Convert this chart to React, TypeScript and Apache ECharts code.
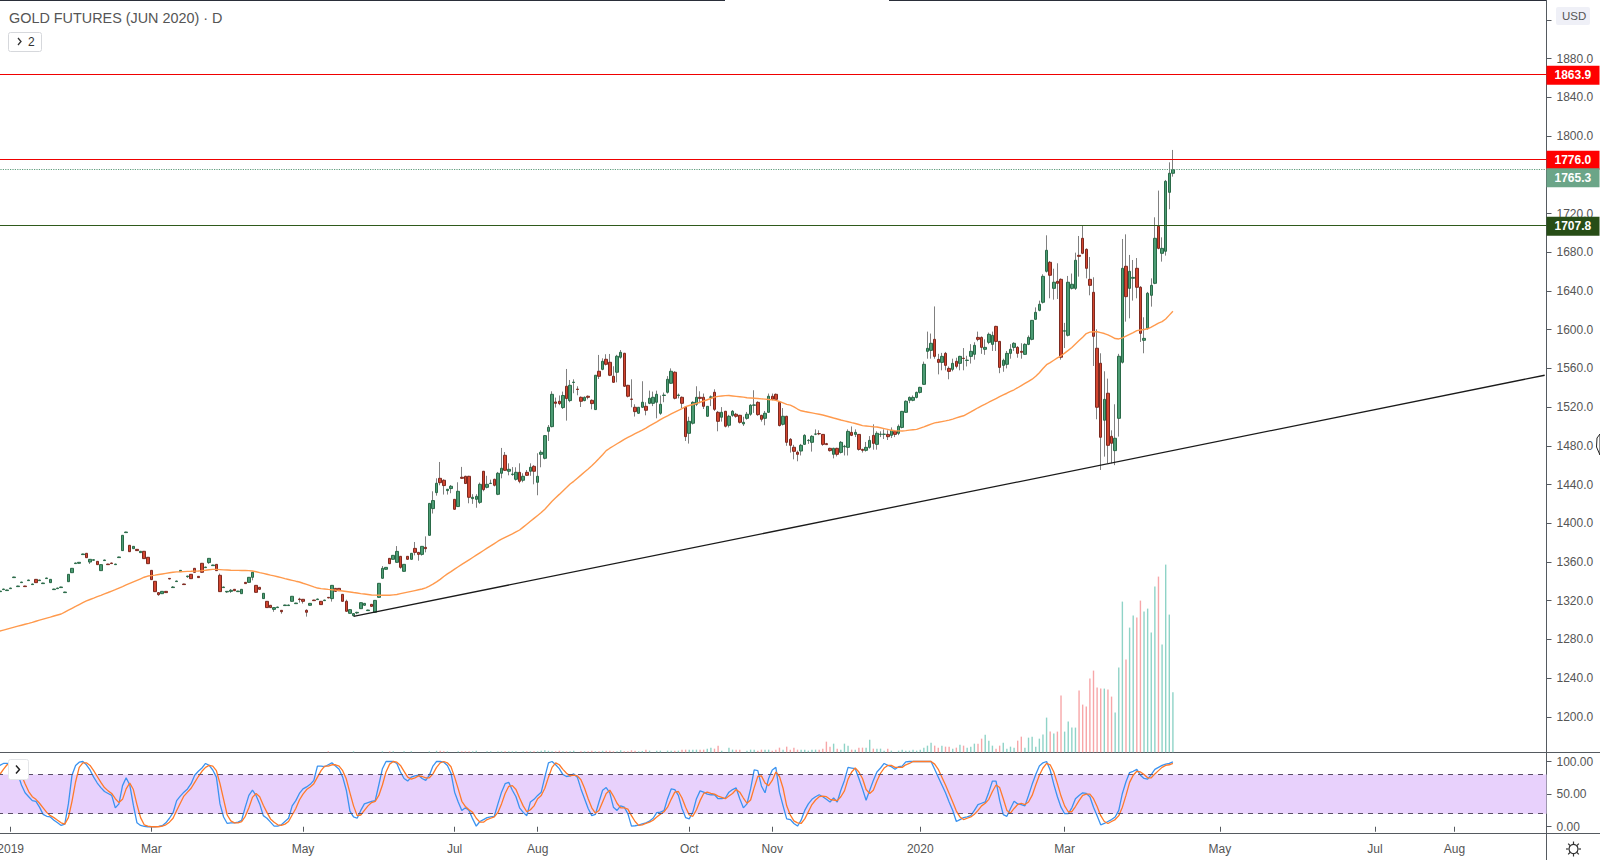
import React, { useEffect, useRef } from "react";
import * as echarts from "echarts";

const FONT = "'Liberation Sans', Arial, sans-serif";

// daily gold futures
const opens = [
  1329.3,1331.4,1330.4,1332.4,1343.8,1334.5,1338.6,1335.1,1340.7,1336.6,
  1342,1340.7,1337.6,1342.8,1338.6,1331.4,1332.4,1333.5,1328.3,1339.6,
  1348.9,1358.3,1358.6,1367.6,1368.9,1359.9,1361.7,1360.6,1351,1361.4,
  1357.8,1358.9,1357.2,1364.5,1371.7,1390.3,1377.2,1373.7,1373,1369.6,
  1371,1364.8,1351.3,1340,1328.3,1327.2,1329.6,1343,1333.5,1339.7,
  1350,1337.2,1344.8,1347.2,1353.4,1345.1,1358.6,1354.1,1359.3,1356.2,
  1357.5,1346.2,1333.5,1329,1329.6,1331.7,1329.3,1327.2,1338.9,1338.9,
  1344.1,1335.8,1333.8,1322.1,1319.3,1315.2,1311,1312.8,1310,1314.9,
  1314.9,1319.3,1316.9,1321.7,1321.4,1310,1315.2,1320.6,1321.1,1319.3,
  1320,1323.4,1322.1,1332.7,1332.7,1326.5,1319.3,1306.9,1304.5,1307.3,
  1311.7,1315.2,1309.7,1316.2,1308,1323.4,1343.1,1352.4,1363.7,1362.7,
  1359.6,1365.8,1350.3,1365.8,1362.7,1374,1369.9,1367.8,1375.1,1387.5,
  1415.1,1431.6,1446.4,1444.4,1433.7,1435.8,1424.7,1417.2,1447.5,1448.5,
  1448.5,1425.4,1424.7,1421.6,1453.7,1437.1,1441,1445.4,1429.9,1451.6,
  1470.2,1453.7,1450.4,1445.4,1452.6,1444.4,1452.6,1453.7,1458.8,1442.3,
  1471.2,1467.1,1495,1499.8,1525.3,1526,1519.5,1541.5,1526.7,1545.4,
  1538.6,1530.1,1526.7,1531.2,1527,1517.4,1557,1559,1569.4,1566.3,
  1551.8,1556,1571.5,1575.6,1542.5,1528.3,1519.8,1513.6,1519.8,1520.8,
  1523.9,1523.9,1525,1513.6,1532,1535.3,1544.6,1556,1532,1530.1,
  1519.8,1492.9,1503.3,1522.9,1530.1,1530.1,1510.5,1530.1,1535.3,1514.6,
  1509.5,1515.7,1501.2,1511.5,1512.6,1511.5,1502.6,1508.4,1512.6,1521.9,
  1524.9,1511.5,1508.4,1514.6,1531.2,1533.2,1524.9,1502.2,1510.5,1486.7,
  1478.5,1473.3,1474.6,1481.5,1485.4,1483.6,1492,1492.6,1491.8,1482.2,
  1477.4,1471.2,1477.4,1473.2,1479,1478.4,1493.9,1491.8,1491.8,1476.3,
  1475.3,1478.4,1490.8,1481.5,1491.8,1491.8,1491.8,1490.8,1494.9,1492.9,
  1499,1514.6,1527,1527,1530,1535.2,1543.5,1577.6,1578.6,1590,
  1569.3,1566.2,1575.5,1560,1559,1567.3,1565.2,1570.5,1568.2,1572.4,
  1574.5,1592,1592,1579.7,1586.9,1584.8,1603.4,1587.9,1563.1,1564.2,
  1575.5,1581.7,1581.7,1577.6,1574.5,1584.8,1590,1610.7,1620,1628.3,
  1660.3,1669.6,1642.7,1650,1652,1598.5,1594.2,1642.7,1642.7,1676.8,
  1694.4,1683,1652,1638.6,1580.8,1565.3,1506.4,1534.3,1489.8,1475,
  1508.4,1566.3,1665.5,1642.7,1653.1,1663.4,1643.8,1589,1601.4,1635.5,
  1647.9,1706.8,1678.9,1681,1741.9,1761.6,
];
const closes = [
  1329.9,1332,1331,1333,1344.4,1335.1,1339.2,1334.5,1341.3,1337.2,
  1338.6,1341.3,1338.2,1343.4,1342,1332,1333,1334.1,1328.9,1347.2,
  1353.4,1358.9,1359.6,1368.2,1364.4,1362.7,1362.3,1357.2,1357.2,1362,
  1357.2,1358.3,1357.8,1365.1,1387.5,1390.9,1370.6,1376.1,1371.7,1371,
  1363.4,1358.2,1341.7,1329.3,1326.2,1329.6,1328.3,1342.4,1334.1,1340.3,
  1351.3,1336.6,1345.4,1342.7,1349.3,1343.8,1349.3,1354.7,1363.7,1356.8,
  1351,1329.3,1334.1,1329.6,1330.7,1330.3,1329.9,1331.7,1337.6,1344.1,
  1349.3,1328.6,1331.7,1327.6,1312.8,1312.8,1312.8,1313.4,1308.6,1315.5,
  1315.5,1324.5,1317.5,1321.1,1319.3,1308,1317.2,1320,1321.7,1315.9,
  1320.6,1322.8,1335.8,1329.6,1330.3,1319.3,1309,1310.7,1306.6,1307.9,
  1317.9,1317.2,1310.3,1314.1,1320.3,1337.9,1353.4,1354.4,1358.2,1366.8,
  1370.9,1354.4,1357.5,1362.7,1368.9,1369.9,1367.8,1376.1,1373.7,1420.5,
  1423.4,1441.3,1441.9,1438.9,1435.1,1438.2,1414.4,1433,1446.4,1441,
  1426.8,1426.8,1427.8,1440.2,1434.7,1440.2,1441.3,1439.2,1451.6,1456.8,
  1454.7,1455.7,1450.8,1452.6,1443.3,1448.5,1449.5,1457.8,1453.7,1448.5,
  1473.3,1490.5,1499.1,1533.2,1523.9,1523.6,1532,1528.8,1542.5,1545.8,
  1538.2,1526,1530.1,1530.1,1523.6,1552.9,1551.8,1567.3,1564.2,1552.9,
  1545.6,1572.5,1576.6,1541.5,1531.2,1528,1515.3,1519.8,1525,1516.7,
  1529.1,1530.1,1533.2,1522.9,1532.4,1548.7,1557,1529.1,1532.4,1523.9,
  1489.5,1505.3,1524.9,1530.1,1529,1520.8,1520.8,1530.5,1517.7,1505.3,
  1514.6,1500.2,1510.5,1515.7,1510.5,1504.3,1504.3,1512.6,1521.9,1522.2,
  1512.2,1507.4,1513.6,1531.2,1528,1528,1500.9,1510.5,1483.6,1480.5,
  1474.3,1471.2,1480.5,1490.8,1485.7,1489.8,1492.2,1492.4,1481.5,1481.2,
  1475,1477.4,1471.2,1483.6,1479.5,1494.9,1490.8,1493.9,1476.3,1475.3,
  1478.4,1485.6,1482.5,1492.9,1492,1492,1489.4,1496,1491.8,1500.1,
  1515.6,1526,1530,1530,1535.2,1540.4,1564.2,1580.7,1585.9,1572.4,
  1566.2,1572.4,1563.1,1556.9,1565.2,1562.1,1572.4,1570.2,1568.5,1577.6,
  1583.8,1590,1581.7,1581.7,1595.2,1594.1,1587.9,1561,1568.3,1575.5,
  1579.7,1585.9,1575.5,1576.6,1584.8,1592,1609.6,1617.9,1626.2,1655.1,
  1682,1656.2,1649,1647.9,1571.5,1598.8,1649,1646.9,1671.7,1675.8,
  1678.9,1663.4,1645.8,1593.1,1519.8,1488.8,1528,1480.5,1482.6,1487.8,
  1572.5,1663.4,1634.1,1660.3,1654,1643.8,1596.2,1591,1637.6,1645.8,
  1694.4,1684,1684,1753.3,1761.6,1765.3,
];
const highs = [
  1330.2,1332.3,1331.3,1333.3,1344.7,1335.4,1339.5,1335.4,1341.6,1337.5,
  1342.3,1341.6,1338.5,1343.7,1342.3,1332.3,1333.3,1334.4,1329.2,1347.5,
  1353.7,1359.2,1359.9,1368.5,1369.2,1363,1362.6,1360.9,1357.5,1362.3,
  1358.1,1359.2,1358.1,1365.4,1387.8,1391.2,1377.5,1376.4,1373.3,1371.3,
  1371.3,1365.1,1351.6,1340.3,1328.6,1329.9,1329.9,1343.3,1335,1340.6,
  1351.6,1337.5,1345.7,1347.5,1353.7,1345.4,1358.9,1355,1364,1357.1,
  1357.8,1348,1334.4,1329.9,1332,1332,1330.2,1332,1339.2,1344.4,
  1349.6,1336.1,1334.1,1327.9,1319.6,1315.5,1313.1,1313.7,1310.3,1315.8,
  1315.8,1324.8,1317.8,1323,1321.7,1311,1317.5,1320.9,1322,1319.6,
  1320.9,1323.7,1336.1,1333,1333,1326.8,1321,1311,1306.9,1308.5,
  1318.2,1317.5,1310.6,1316.5,1320.6,1338.2,1355.8,1354.7,1364,1367.1,
  1376.4,1366.1,1357.8,1366.1,1369.2,1380.6,1370.2,1376.4,1386.4,1420.8,
  1433,1446.4,1463.3,1445.4,1435.4,1439.5,1424.9,1442.3,1458.2,1449,
  1449,1430,1430,1442,1454,1449,1445,1446,1453,1477.8,
  1473.6,1461.9,1458,1457.8,1461.9,1451.6,1455,1461.9,1460,1472.3,
  1475.4,1491,1501.5,1536.3,1529.8,1532,1536,1559.4,1548,1548.7,
  1541.5,1531,1531,1532,1528,1553,1573.9,1570.4,1574.6,1574.9,
  1562.2,1574,1579,1576,1543,1548.7,1522.9,1520,1546.7,1525,
  1537,1536,1537,1532,1535,1552,1560,1557,1534,1531,
  1520,1510,1526,1541.5,1536.3,1534,1521,1532,1538.4,1516,
  1520,1516,1512,1517,1514,1512,1510,1515,1523,1537.4,
  1526,1512,1516,1534,1534,1534,1526,1519,1511,1488,
  1481,1475,1482,1492,1487,1491,1497,1496,1492,1483,
  1478,1478,1478,1485,1481,1497,1500,1497,1492,1477,
  1484,1490,1502.2,1495,1495,1497,1496,1499,1496,1502,
  1516,1527,1531,1532,1536,1541,1567,1598,1596,1624,
  1575,1576,1577,1562,1570,1571,1573,1581,1573,1585,
  1587,1598,1593,1590,1597,1598,1604,1588,1570,1578,
  1585,1587,1583,1586,1586,1594,1610,1623,1630,1657.2,
  1697.5,1671,1663,1668.6,1653,1607,1655.5,1658,1679.6,1696.8,
  1707.8,1684,1675.1,1654.1,1600.4,1575.6,1557,1549.4,1496,1522.9,
  1575,1693.7,1698.5,1677.2,1672,1674,1645,1612.8,1639,1653,
  1716.1,1743.7,1695.4,1754.7,1772.9,1785.7,
];
const lows = [
  1329,1331.1,1330.1,1332.1,1343.5,1334.2,1338.3,1334.2,1340.4,1336.3,
  1338.3,1340.4,1337.3,1342.5,1338.3,1331.1,1332.1,1333.2,1328,1339.3,
  1348.6,1358,1358.3,1367.3,1364.1,1357.9,1361.4,1356.9,1350.7,1361.1,
  1356.9,1358,1356.9,1364.2,1371.4,1390,1370.3,1373.4,1371.4,1369.3,
  1363.1,1357.9,1341.4,1329,1325,1326.9,1328,1342.1,1333.2,1339.4,
  1349.7,1336.3,1343.5,1342.4,1349,1343.5,1349,1353.8,1358,1355.9,
  1350.7,1329,1333.2,1328,1328,1330,1329,1326.9,1337.3,1338.6,
  1341,1328.3,1331.4,1321.8,1312.5,1312.5,1308.5,1312.5,1306.5,1314.6,
  1314.6,1319,1316.6,1318,1317,1303.5,1314.9,1319.7,1320.8,1315.6,
  1319.7,1322.5,1319,1329.3,1330,1319,1308.7,1306.6,1304.2,1306,
  1311.4,1314.9,1309.4,1313.8,1307.7,1323.1,1342.8,1352.1,1357.9,1362.4,
  1359.3,1353,1350,1362.4,1362.4,1366.8,1361.3,1366.5,1369.9,1387.2,
  1410,1428.5,1439.2,1429.6,1429.6,1431,1414.1,1417,1446,1440.7,
  1420.6,1420,1416,1420,1433,1436,1441,1438,1429,1446.4,
  1454,1449.5,1449,1444,1441.3,1442.3,1449,1449,1440.2,1428.9,
  1457.8,1466,1485,1499,1519.5,1522,1518,1506,1525,1534.3,
  1532.2,1520.1,1526,1528,1517.7,1517,1549,1558,1563,1552,
  1545,1545.6,1570,1541,1530,1519.8,1510.2,1513,1519,1511.5,
  1523,1521,1508.4,1512,1525,1534,1544,1528,1529,1519,
  1485,1482.3,1502,1521,1524,1518,1510,1521,1516,1495,
  1505,1499,1499,1510,1509,1503,1500.5,1507,1511,1514,
  1511,1505,1501.2,1514,1527,1527,1500,1501,1480,1473,
  1466,1464,1470,1481,1482,1474,1491,1491,1480,1481,
  1474,1467,1469,1472,1470,1470,1490,1489,1475,1473,
  1474,1477,1476,1476,1489,1487,1486,1488,1489,1491,
  1498,1514,1524,1526,1529,1534,1543,1570,1570,1570,
  1553.8,1558,1558,1548.7,1557,1560,1558,1558,1562,1565,
  1569,1588,1575,1574,1585,1578,1578,1555,1556.5,1560,
  1570,1578,1571,1570,1574,1584,1589,1610,1619,1627,
  1659,1632.4,1631,1631.7,1569,1581,1593,1641.5,1641,1654.8,
  1678,1653,1635.5,1562.5,1507.4,1455,1468.8,1462,1462,1460,
  1489.5,1565,1608.3,1611.7,1630,1632.4,1587.3,1575.6,1600,1623.8,
  1647,1683,1670.3,1676.5,1724.4,1758.1,
];
const movingAvg = [
  1288.6,1289.6,1290.6,1291.6,1292.6,1293.6,1294.6,1295.6,1296.5,1297.5,
  1298.7,1299.8,1300.9,1302,1303,1304.1,1305.2,1306.2,1308.2,1310.2,
  1312.1,1314,1316,1317.9,1319.7,1321.2,1322.6,1324.1,1325.5,1327,
  1328.4,1329.9,1331.3,1332.9,1334.5,1336.2,1337.8,1339.4,1341,1342.6,
  1344.2,1345.4,1345.9,1346.4,1347,1347.6,1348.2,1348.8,1349.4,1349.7,
  1349.8,1350,1350.2,1350.3,1350.5,1350.7,1351,1351.4,1351.9,1352.3,
  1352.3,1352.1,1351.8,1351.6,1351.4,1351.3,1351.3,1351.2,1351.1,1351,
  1350.6,1349.9,1349,1348.2,1347.3,1346.4,1345.6,1344.7,1343.8,1342.8,
  1341.9,1341,1340.1,1339.3,1338,1336.8,1335.5,1334.2,1333,1332.4,
  1332,1331.6,1331.3,1330.9,1330.5,1330,1329.5,1329,1328.4,1327.9,
  1327.3,1326.8,1326.3,1325.8,1325.7,1325.6,1325.6,1325.5,1325.6,1326,
  1326.4,1327.2,1328,1328.8,1329.6,1330.4,1331.2,1332,1333.2,1335,
  1337,1339.4,1342,1345,1347.6,1350,1352.5,1355,1357.4,1359.8,
  1362.2,1364.6,1367,1369.4,1371.8,1374.2,1376.6,1379,1381.4,1383.5,
  1385.4,1387.2,1389,1391,1393,1396,1399,1402,1405,1408,
  1411,1414.5,1418.5,1422.7,1426.3,1429.8,1433.4,1436.9,1440.5,1443.3,
  1446.5,1449.7,1453,1456.1,1459.3,1462.9,1466.8,1470.8,1475,1477.5,
  1479.8,1482.1,1484.4,1486.7,1488.7,1490.6,1492.5,1494.3,1496.2,1498.3,
  1500.6,1502.7,1504.8,1507,1509.2,1511,1512.9,1514.8,1516.7,1518.5,
  1520.5,1521.6,1522.7,1523.8,1525,1526.3,1527.6,1528.9,1530.3,1531.1,
  1531.5,1531.8,1531.9,1531.5,1531.1,1530.7,1530.3,1529.7,1529.4,1529.1,
  1528.8,1528.5,1528.2,1527.8,1527.4,1527,1525.8,1524.4,1522.8,1522,
  1520.3,1518,1516.2,1515.4,1514.7,1514,1513.3,1512.6,1511.8,1510.8,
  1509.8,1508.7,1507.7,1506.7,1505.8,1504.9,1503.9,1503,1502,1500.9,
  1500.5,1500.1,1499.7,1499.4,1498.6,1497.8,1497,1496,1495.5,1495.4,
  1495.3,1495.7,1496.2,1496.6,1497,1498.3,1499.6,1501,1502.4,1503.7,
  1504.3,1505,1505.7,1506.5,1507.6,1508.8,1510,1511,1513,1515,
  1517.2,1519.3,1521.2,1523,1525,1526.9,1528.8,1530.7,1532.5,1534.3,
  1536.2,1537.9,1540,1542.2,1544.4,1546.6,1548.8,1551.8,1555.5,1559.8,
  1563.8,1566,1568.4,1570.8,1573,1575.8,1578.6,1581.5,1585.2,1588.7,
  1592.2,1596,1597.5,1597.8,1597.9,1597,1596,1594.6,1592.8,1590.8,
  1590.4,1591.6,1593.4,1595.2,1597,1599,1599.6,1600.2,1600.9,1602.6,
  1604.6,1606.8,1608.3,1611,1615,1619,
];
// thousands of contracts (approx), only the shape can be read
const volumes = [
  0,0,0,0,0,0,0,0,0,0,0,0,0,0,0,0,0,0,0,0,0,0,0,0,0,0,0,0,0,0,
  0,0,0,0,0,0,0,0,0,0,0,0,0,0,0,0,0,0,0,0,0,0,0,0,0,0,0,0,0,0,
  0,0,0,0,0,0,0,0,0,0,0,0,0,0,0,0,0,0,0,0,0,0,0,0,0,0,0,0,0,0,
  0,2,0,0,0,0,0,0,2,0,0,0,0,0,0,0,2,0,2,2,
  0,0,2,0,2,0,0,0,0,2,0,3,3,2,2,0,0,2,2,2,
  2,2,3,0,0,2,2,0,2,2,2,2,2,2,0,2,2,2,2,2,
  3,4,3,2,2,3,2,2,2,3,0,2,2,2,3,2,2,3,3,3,
  2,2,4,2,2,4,3,2,2.7,5.3,3.3,0,3.3,3.3,0,3.3,3.3,3.3,3.3,5.3,
  5.3,5.3,5.3,5.3,5.3,5.3,7.3,9.3,7.3,13.3,3.3,0,9.3,5.3,5.3,5.3,0,3.3,5.3,5.3,
  3.3,5.3,5.3,5.3,3.3,5.3,9.3,5.3,11.3,5.3,9.3,5.3,5.3,5.3,3.3,5.3,5.3,5.3,7.3,21.3,
  11.3,17.3,7.3,5.3,17.3,13.3,5.3,5.3,9.3,9.3,9.3,25.3,7.3,7.3,7.3,3.3,7.3,3.3,0,3.3,
  5.3,3.3,3.3,5.3,3.3,5.3,9.3,13.3,19.3,13.3,9.3,13.3,11.3,11.3,7.3,9.3,15.3,13.3,9.3,11.3,
  17.3,17.3,27.3,35.3,23.3,13.3,7.3,13.3,19.3,7.3,11.3,9.3,23.3,31.3,9.3,29.3,31.3,11.3,27.3,35.4,
  69.4,41.4,37.4,41.4,113.4,41.4,61.4,49.4,49.4,123.4,95.4,91.4,147.4,163.4,129.4,127.4,127.4,125.4,111.4,79.4,
  169.4,301.4,185.4,249.4,273.4,269.4,303.4,281.4,287.4,239.4,331.4,351.4,215.4,375.4,275.4,120,
];
const stochK = [
  94,97,97,96,92,81,64,52,46,40,39,30,19,16,15,10,6,2,4,35,
  79,94,99,100,95,87,76,67,60,54,51,48,29,35,63,75,64,33,6,2,
  0.5,0,0,0,0.5,1.5,6,13,21.5,40,47,53,58,66,79,85,90,97,94,87,
  76,35,15,5,6,6,7,10,30,48,56,48,35,17,13,7,1,1,3,8,
  13,32,40,51,58,61,65,71,93,93,92,95,98,93,88,76,56,24,15,13,
  25,35,37,39,40,64,89,100,100,100,97,84,74,70,76,78,79,74,71,79,
  93,100,100,99,94,82,53,38,25,29,25,12,1,8,11,14,15,16,35,53,
  66,68,56,46,29,22,17,38,42,48,53,76,98,100,95,89,80,77,78,81,
  76,58,43,28,17,19,38,56,60,52,30,25,32,30,20,1,1.5,2.5,4.5,6,
  8.7,13,21.5,22.5,24.6,43,58,57,48,28,14,12,22.5,43,55,53,50,49,49,43,
  43,44,53,57,59.5,43,29,35,58,87,86,62.5,52,74,87,91,53,32,12,11,
  5,1,10,25,35,42,46,49,46,42,38,44,38,56,71,91,90,89,74,58,
  40.5,56,71,84,90,97,94,92,88,92,93,99.5,100,100,100,100,100,100,100,88,
  76,64,52,38,25,8,11,14,15,17,25,34,36,38,53,70,70,40.5,18.5,16,
  28,39,35,34,32,48,65,80,93,98,100,87,65,46,30,20,20,29,43,48,
  52,51,46,30,17,3,5,8,11,15,25,51,69,83,85,88,79,74,73,80,
  88,91,94,96,97,99.5,
];
const stochD = [
  80,88,95,97,95,90,79,66,54,46,42,36,29,22,17,14,10,6,4,14,
  39,69,91,98,98,94,86,77,68,60,55,51,43,37,42,58,67,57,34,14,
  3,1,0,0,0,1,3,7,13,25,36,47,53,59,68,77,85,91,94,93,
  86,66,42,18,9,6,6,8,16,29,45,51,46,33,22,12,7,3,2,4,
  8,18,28,41,50,57,61,66,76,86,93,93,95,95,93,86,73,52,32,17,
  18,25,32,37,39,48,64,84,96,100,99,94,85,76,73,75,78,77,75,75,
  81,91,98,100,98,92,76,58,39,31,26,22,13,7,7,11,13,15,22,35,
  51,62,63,57,44,32,23,26,32,43,48,59,76,91,98,95,88,82,78,79,
  78,72,59,43,29,21,25,38,51,56,47,36,29,29,27,17,8,2,3,5,
  7,10,15,19,23,30,42,53,54,44,30,18,16,26,40,51,53,51,50,47,
  45,43,47,51,57,53,44,36,41,60,77,78,67,63,71,84,77,59,32,18,
  9,6,5,12,23,34,41,46,47,46,42,41,40,46,55,73,84,90,84,74,
  57,51,56,70,82,90,94,94,91,91,91,95,97,100,100,100,100,100,100,96,
  88,76,64,51,38,24,15,11,13,15,19,25,32,36,42,54,64,60,43,25,
  21,28,34,36,34,38,48,64,79,90,97,95,84,66,47,32,23,23,31,40,
  48,50,50,43,31,17,8,5,8,11,17,30,48,68,79,85,84,80,75,75,
  81,86,91,94,95,97,
];

// bars on the time scale, future ones are empty
const BAR_SLOTS = 429;
const tickIndex = [3, 42, 84, 126, 149, 191, 214, 255, 295, 338, 381, 403];
const tickLabels = ["2019", "Mar", "May", "Jul", "Aug", "Oct", "Nov", "2020", "Mar", "May", "Jul", "Aug"];
const priceTicks = [1200,1240,1280,1320,1360,1400,1440,1480,1520,1560,1600,1640,1680,1720,1760,1800,1840,1880,1920];
const priceLabels = [1200,1240,1280,1320,1360,1400,1440,1480,1520,1560,1600,1640,1680,1720,1800,1840,1880];
const stochTicks = [0, 50, 100];
const trendLine = { startIndex: 98, startPrice: 1303.7, endIndex: 428, endPrice: 1552.9 };

const categories = Array.from({ length: BAR_SLOTS }, (_, i) => {
  const t = tickIndex.indexOf(i);
  return t >= 0 ? tickLabels[t] : "";
});

const isTick = (i: number) => tickIndex.includes(i);

function priceTag(value: number, bg: string, lineColor: string, lineType = "solid", shift = 1) {
  return {
    yAxis: value,
    lineStyle: { color: lineColor, width: 1.2, type: lineType },
    label: {
      show: true,
      position: "end" as const,
      distance: 0,
      offset: [0, shift],
      formatter: value.toFixed(1),
      color: "#fff",
      fontFamily: FONT,
      fontSize: 12,
      fontWeight: "bold" as const,
      backgroundColor: bg,
      width: 45,
      height: 19,
      lineHeight: 19,
      align: "left" as const,
      padding: [0, 0, 0, 8],
    },
  };
}

function chrome() {
  const dark = "#555a60";
  const rays = [0, 45, 90, 135, 180, 225, 270, 315].map((a) => {
    const r = (a * Math.PI) / 180;
    return {
      type: "line",
      shape: { x1: 1573.5 + 5 * Math.cos(r), y1: 849 + 5 * Math.sin(r), x2: 1573.5 + 7.5 * Math.cos(r), y2: 849 + 7.5 * Math.sin(r) },
      style: { stroke: "#333", lineWidth: 1.2 },
    };
  });
  return [
    { type: "line", shape: { x1: 0, y1: 0.5, x2: 725, y2: 0.5 }, style: { stroke: "#2a2e39", lineWidth: 1 } },
    { type: "line", shape: { x1: 889, y1: 0.5, x2: 1546, y2: 0.5 }, style: { stroke: "#2a2e39", lineWidth: 1 } },
    { type: "line", shape: { x1: 0, y1: 752.5, x2: 1600, y2: 752.5 }, style: { stroke: dark, lineWidth: 1 } },
    { type: "line", shape: { x1: 0, y1: 833.5, x2: 1600, y2: 833.5 }, style: { stroke: dark, lineWidth: 1 } },
    { type: "line", shape: { x1: 1546.5, y1: 0, x2: 1546.5, y2: 860 }, style: { stroke: dark, lineWidth: 1 } },
    { type: "text", x: 9, y: 18, style: { text: "GOLD FUTURES (JUN 2020) · D", fill: "#555", fontFamily: FONT, fontSize: 14.4, textVerticalAlign: "middle" } },
    { type: "rect", shape: { x: 8.5, y: 32.5, width: 33, height: 19, r: 2 }, style: { fill: "#fff", stroke: "#d6d8dc" } },
    { type: "polyline", shape: { points: [[18, 38], [21, 41.5], [18, 45]] }, style: { stroke: "#333", fill: "none", lineWidth: 1.3 } },
    { type: "text", x: 28, y: 42, style: { text: "2", fill: "#333", fontFamily: FONT, fontSize: 12, textVerticalAlign: "middle" } },
    { type: "rect", z: 50, shape: { x: 1556, y: 7, width: 34, height: 18, r: 2 }, style: { fill: "#eff0f7" } },
    { type: "text", z: 51, x: 1562, y: 16, style: { text: "USD", fill: "#555", fontFamily: FONT, fontSize: 11.5, textVerticalAlign: "middle" } },
    { type: "rect", z: 50, shape: { x: 8.5, y: 759.5, width: 20, height: 20, r: 2 }, style: { fill: "#fff", stroke: "#e3e5e8" } },
    { type: "polyline", z: 51, shape: { points: [[16, 765.5], [19.5, 769.5], [16, 773.5]] }, style: { stroke: "#222", fill: "none", lineWidth: 1.5 } },
    { type: "polygon", z: 51, shape: { points: [[1600, 434], [1597, 438], [1596.5, 447], [1600, 455]] }, style: { fill: "#fff", stroke: "#222", lineWidth: 1 } },
    { type: "circle", shape: { cx: 1573.5, cy: 849, r: 4.5 }, style: { fill: "#fff", stroke: "#333", lineWidth: 1.2 } },
    ...rays,
  ];
}

function buildOption() {
  const wicks = opens.map((o, i) => [o, closes[i], lows[i], highs[i]]);
  const bodies = opens.map((o, i) => [o, closes[i], Math.min(o, closes[i]), Math.max(o, closes[i])]);
  return {
    animation: false,
    backgroundColor: "#fff",
    graphic: chrome(),
    grid: [
      { left: -2, right: 53.5, top: 1, height: 751.3, outerBoundsMode: "none" },
      { left: -2, right: 53.5, top: 752.5, height: 80.5, outerBoundsMode: "none" },
    ],
    xAxis: [
      { type: "category", gridIndex: 0, data: categories, axisLine: { show: false }, axisTick: { show: false }, axisLabel: { show: false }, splitLine: { show: false } },
      {
        type: "category",
        gridIndex: 1,
        data: categories,
        axisLine: { show: false },
        axisTick: { show: true, alignWithLabel: true, interval: (i: number) => isTick(i), length: 5, lineStyle: { color: "#555a60" } },
        axisLabel: { interval: (i: number) => isTick(i), color: "#555", fontFamily: FONT, fontSize: 12, margin: 10, hideOverlap: false },
        splitLine: { show: false },
      },
    ],
    yAxis: [
      {
        type: "value",
        gridIndex: 0,
        position: "right",
        min: 1163.3,
        max: 1939.6,
        axisLine: { show: false },
        axisTick: { show: true, length: 5, customValues: priceTicks, lineStyle: { color: "#555a60" } },
        axisLabel: { color: "#555", fontFamily: FONT, fontSize: 12, margin: 10, customValues: priceLabels, formatter: (v: number) => v.toFixed(1) },
        splitLine: { show: false },
      },
      { type: "value", gridIndex: 0, min: 0, max: 1502.6, show: false, splitLine: { show: false } },
      {
        type: "value",
        gridIndex: 1,
        position: "right",
        min: -9.6,
        max: 113.8,
        axisLine: { show: false },
        axisTick: { show: true, length: 5, customValues: stochTicks, lineStyle: { color: "#555a60" } },
        axisLabel: { color: "#555", fontFamily: FONT, fontSize: 12, margin: 10, customValues: stochTicks, formatter: (v: number) => v.toFixed(2) },
        splitLine: { show: false },
      },
    ],
    series: [
      {
        name: "Volume",
        type: "bar",
        xAxisIndex: 0,
        yAxisIndex: 1,
        data: volumes,
        barWidth: 1.4,
        itemStyle: { color: (p: any) => (closes[p.dataIndex] >= opens[p.dataIndex] ? "#8fd3c7" : "#f7a6a8") },
      },
      {
        name: "Wicks",
        type: "candlestick",
        xAxisIndex: 0,
        yAxisIndex: 0,
        data: wicks,
        barWidth: 1,
        itemStyle: { color: "#808080", color0: "#808080", borderColor: "#808080", borderColor0: "#808080", borderWidth: 1 },
      },
      {
        name: "Gold",
        type: "candlestick",
        xAxisIndex: 0,
        yAxisIndex: 0,
        data: bodies,
        barWidth: 3,
        itemStyle: { color: "#4c9c74", color0: "#d2452f", borderColor: "#2a6a48", borderColor0: "#7d2a20", borderWidth: 1 },
        markLine: {
          silent: true,
          symbol: "none",
          animation: false,
          data: [
            priceTag(1863.9, "#ff0000", "#f00000"),
            priceTag(1776.0, "#ff0000", "#f00000"),
            priceTag(1765.3, "#6ba588", "#5f9d7d", "dotted", 8),
            priceTag(1707.8, "#274d17", "#2f5a1c"),
            [
              { coord: [trendLine.startIndex, trendLine.startPrice], lineStyle: { color: "#1a1a1a", width: 1.3, type: "solid" }, label: { show: false } },
              { coord: [trendLine.endIndex, trendLine.endPrice] },
            ],
          ],
        },
      },
      {
        name: "MA",
        type: "line",
        xAxisIndex: 0,
        yAxisIndex: 0,
        data: movingAvg,
        symbol: "none",
        z: 3,
        lineStyle: { color: "#ff9a4d", width: 1.4 },
      },
      {
        name: "%K",
        type: "line",
        xAxisIndex: 1,
        yAxisIndex: 2,
        data: stochK,
        symbol: "none",
        z: 3,
        lineStyle: { color: "#3b93f0", width: 1.3 },
        markArea: { silent: true, itemStyle: { color: "#e8d1fc" }, data: [[{ yAxis: 20 }, { yAxis: 80 }]] },
        markLine: {
          silent: true,
          symbol: "none",
          label: { show: false },
          lineStyle: { color: "#5a4f66", type: [5, 5], width: 1 },
          data: [{ yAxis: 80 }, { yAxis: 20 }],
        },
      },
      {
        name: "%D",
        type: "line",
        xAxisIndex: 1,
        yAxisIndex: 2,
        data: stochD,
        symbol: "none",
        z: 4,
        lineStyle: { color: "#ff7a2a", width: 1.3 },
      },
    ],
  };
}

export default function App() {
  const chartRef = useRef<HTMLDivElement>(null);

  useEffect(() => {
    if (!chartRef.current) return;
    document.body.style.margin = "0";
    const chart = echarts.init(chartRef.current, undefined, { renderer: "svg" });
    chart.setOption(buildOption() as any);
    return () => chart.dispose();
  }, []);

  return <div ref={chartRef} style={{ width: 1600, height: 860 }} />;
}
